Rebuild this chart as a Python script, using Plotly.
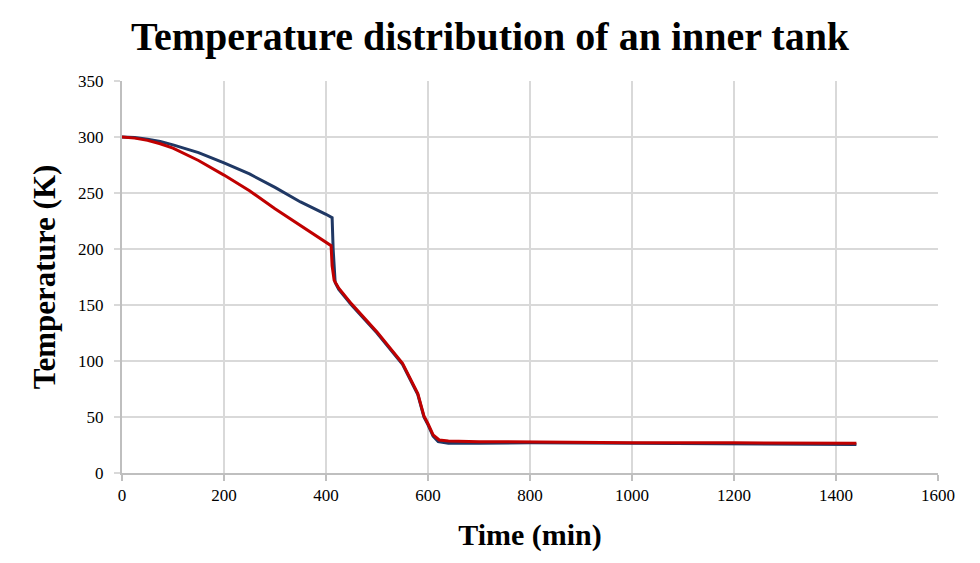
import plotly.graph_objects as go

# Time (min) and temperature (K)
blue_t = [0, 25, 50, 75, 100, 150, 200, 250, 300, 350, 400, 412, 414, 418, 425, 450, 500, 550, 580, 592, 600, 610, 620, 640, 700, 800, 1000, 1200, 1440]
blue_T = [300, 299.5, 298, 296, 293, 286, 277, 267, 255, 242, 231, 228, 200, 170, 164, 150, 125, 97, 70, 50, 43, 33, 28, 26.5, 26.5, 27, 26.5, 26, 25.5]
red_t = [0, 25, 50, 75, 100, 150, 200, 250, 300, 350, 400, 410, 412, 416, 425, 450, 500, 550, 580, 592, 600, 610, 622, 640, 700, 800, 1000, 1200, 1440]
red_T = [300, 299, 297, 294, 290, 279, 266, 252, 236, 221, 206, 203, 185, 172, 165, 151, 126, 98, 71, 51, 44, 34, 29.5, 28.5, 28, 27.5, 27, 27, 26.5]

x_ticks = [0, 200, 400, 600, 800, 1000, 1200, 1400, 1600]
y_ticks = [0, 50, 100, 150, 200, 250, 300, 350]

fig = go.Figure()
fig.add_trace(go.Scatter(x=blue_t, y=blue_T, mode="lines",
                         line=dict(color="#203864", width=3), showlegend=False))
fig.add_trace(go.Scatter(x=red_t, y=red_T, mode="lines",
                         line=dict(color="#c00000", width=3), showlegend=False))

serif = "Liberation Serif, Times New Roman, serif"
W, H = 964, 547
fig.update_layout(
    width=W, height=H,
    margin=dict(l=114, r=W - 930, t=73, b=H - 465, autoexpand=False),
    paper_bgcolor="white", plot_bgcolor="white",
    title=dict(text="<b>Temperature distribution of an inner tank</b>",
               x=0.5, xanchor="center", y=1 - 28 / H, yanchor="middle",
               font=dict(family=serif, size=40, color="black")),
    font=dict(family=serif, color="black"),
    xaxis=dict(range=[0, 1600], tickvals=x_ticks, ticktext=[str(v) for v in x_ticks],
               automargin=False,
               showgrid=True, gridcolor="#d9d9d9", gridwidth=2,
               showline=True, linecolor="#bfbfbf", linewidth=2,
               ticks="outside", ticklen=6, tickcolor="#bfbfbf", tickwidth=2,
               zeroline=False, tickfont=dict(family=serif, size=17, color="black"),
               title=dict(text="<b>Time (min)</b>", font=dict(family=serif, size=30, color="black"),
                          standoff=20)),
    yaxis=dict(range=[0, 350], tickvals=y_ticks, ticktext=[str(v) for v in y_ticks],
               automargin=False,
               showgrid=True, gridcolor="#d9d9d9", gridwidth=2,
               showline=True, linecolor="#bfbfbf", linewidth=2,
               ticks="outside", ticklen=6, tickcolor="#d9d9d9", tickwidth=2,
               ticklabelstandoff=7,
               zeroline=False, tickfont=dict(family=serif, size=17, color="black"),
               title=dict(text="<b>Temperature (K)</b>", font=dict(family=serif, size=31, color="black"),
                          standoff=13)),
)
fig.write_html("out.html")
